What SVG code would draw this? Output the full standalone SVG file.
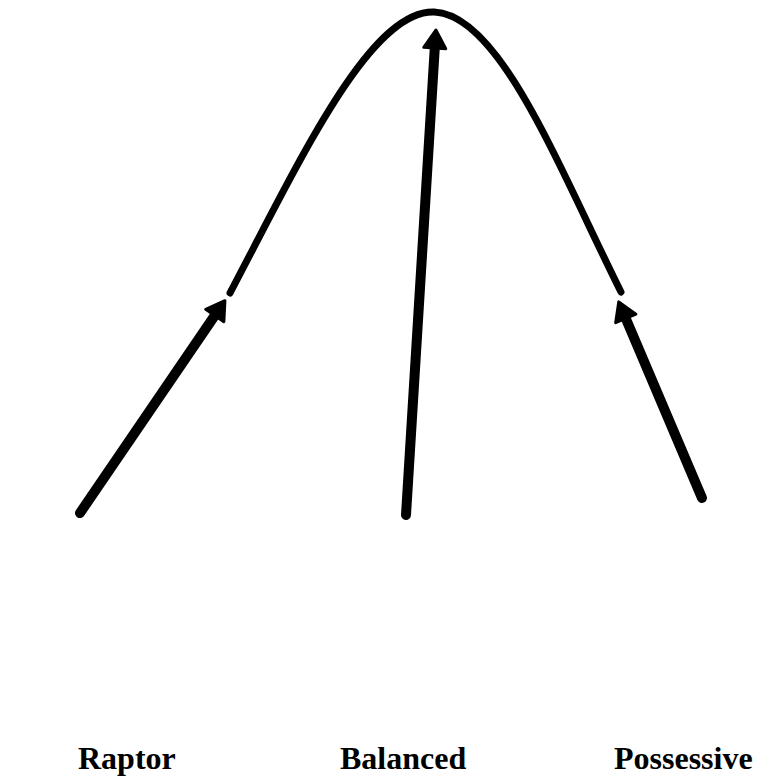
<svg xmlns="http://www.w3.org/2000/svg" width="764" height="780" viewBox="0 0 764 780">
<defs>
<style>
.curve{fill:none;stroke:#000;stroke-width:7;stroke-linecap:round}
.shaft{fill:none;stroke:#000;stroke-width:10;stroke-linecap:round}
.lbl{font-family:"Liberation Serif",serif;font-weight:bold;font-size:32px;fill:#000}
</style>
<marker id="head" markerUnits="userSpaceOnUse" markerWidth="34" markerHeight="34" refX="2" refY="0" viewBox="-4 -17 30 34" orient="auto">
<path d="M0,-11 L18,0 L0,11 z" fill="#000" stroke="#000" stroke-width="3" stroke-linejoin="round"/>
</marker>
</defs>
<rect width="764" height="780" fill="#fff"/>
<g id="curve">
<path class="curve" d="M230,293 C300,160 370,10 434,12 C500,14 560,170 621,292"/>
</g>
<g id="connectors">
<path class="shaft" d="M80,513 L215.9,313.9" marker-end="url(#head)"/>
<path class="shaft" d="M406,515 L434.9,46" marker-end="url(#head)"/>
<path class="shaft" d="M702,498 L625,316.6" marker-end="url(#head)"/>
</g>
<g id="raptor"><text class="lbl" x="78" y="769">Raptor</text></g>
<g id="balanced"><text class="lbl" x="340" y="769">Balanced</text></g>
<g id="possessive"><text class="lbl" x="614" y="769">Possessive</text></g>
</svg>
